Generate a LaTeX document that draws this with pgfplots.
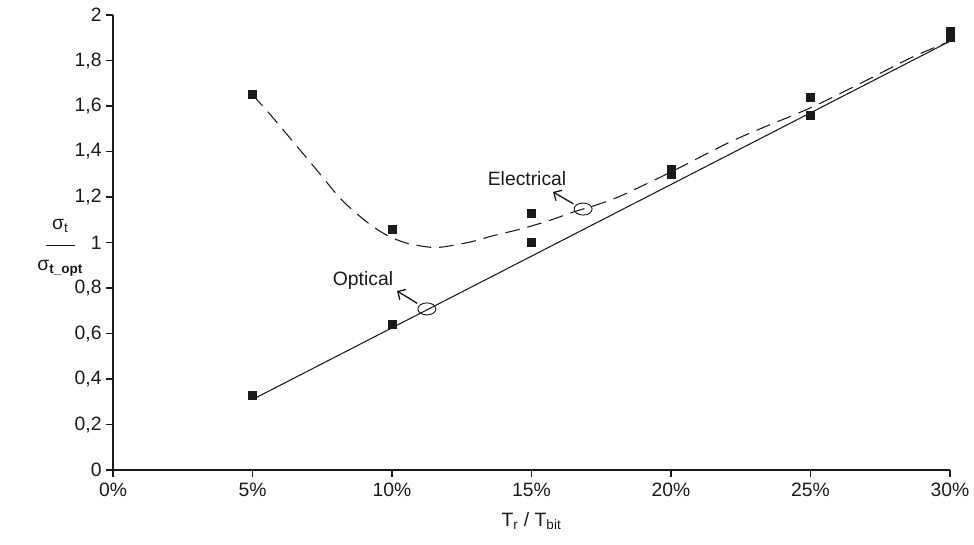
\documentclass[border=0pt]{standalone}
\usepackage{pgfplots}
\pgfplotsset{compat=1.18}
\usetikzlibrary{arrows.meta}
\usepackage{fontspec}
\setmainfont{Liberation Sans}
\definecolor{ink}{HTML}{1A1A1A}
\begin{document}
\begin{tikzpicture}
\begin{axis}[
  scale only axis, width=627.75pt, height=341.25pt,
  xmin=0, xmax=30, ymin=0, ymax=2,
  axis lines=left, axis line style={-, line width=0.8pt, ink},
  xtick={0,5,10,15,20,25,30},
  xticklabels={0\%,5\%,10\%,15\%,20\%,25\%,30\%},
  ytick={0,0.2,0.4,0.6,0.8,1,1.2,1.4,1.6,1.8,2},
  yticklabels={0,{0,2},{0,4},{0,6},{0,8},1,{1,2},{1,4},{1,6},{1,8},2},
  tick align=outside, major tick length=5pt,
  tick style={ink, line width=0.8pt},
  ticklabel style={font=\fontsize{14.5}{16}\selectfont, text=ink},
  xticklabel style={yshift=-1pt},
  xlabel={T\textsubscript{r} / T\textsubscript{bit}},
  xlabel style={font=\fontsize{14.5}{16}\selectfont, text=ink, yshift=-5pt},
  clip=false,
]
% Optical trend line
\addplot[ink, line width=0.8pt] coordinates {(5,0.31) (30,1.885)};
% Electrical trend curve
\addplot[ink, line width=0.8pt, dash pattern=on 11pt off 6pt, smooth, tension=0.5] coordinates {
(5,1.648) (5.5,1.582) (6.4,1.451) (7.3,1.319) (8.2,1.187) (9.1,1.090)
(9.8,1.033) (10.5,0.998) (11.3,0.980) (11.8,0.980) (12.8,1.002) (13.6,1.029)
(14.6,1.059) (15.6,1.095) (16.5,1.134) (17.4,1.168) (18.2,1.205) (20,1.31)
(22,1.435) (23.2,1.50) (25,1.592) (26.8,1.70) (28.6,1.812) (30,1.885)};
% Optical points
\addplot[only marks, mark=square*, mark size=3pt, ink] coordinates {
(5,0.33) (10,0.64) (15,1.00) (20,1.30) (25,1.56) (30,1.90)};
% Electrical points
\addplot[only marks, mark=square*, mark size=3pt, ink] coordinates {
(5,1.65) (10,1.06) (15,1.13) (20,1.32) (25,1.64) (30,1.93)};
% annotations
\draw[ink, line width=0.7pt] (axis cs:16.85,1.147) ellipse [x radius=6.75pt, y radius=4.5pt];
\draw[ink, line width=1pt, -{Straight Barb[length=4.5pt]}] (axis cs:16.5,1.17) -- (axis cs:15.77,1.222);
\node[ink, font=\fontsize{14.5}{16}\selectfont] at (axis cs:14.84,1.279) {Electrical};
\draw[ink, line width=0.7pt] (axis cs:11.25,0.708) ellipse [x radius=6.75pt, y radius=4.5pt];
\draw[ink, line width=1pt, -{Straight Barb[length=4.5pt]}] (axis cs:10.9,0.733) -- (axis cs:10.18,0.787);
\node[ink, font=\fontsize{14.5}{16}\selectfont] at (axis cs:8.96,0.831) {Optical};
% y label as fraction
\node[ink, font=\fontsize{14.5}{16}\selectfont, align=center, inner sep=0pt] at (rel axis cs:-0.063,0.488)
  {σ\textsubscript{t}\\[-4pt]\rule{22pt}{0.7pt}\\[3pt]σ\textsubscript{\textbf{t\_opt}}};
\end{axis}
\pgfresetboundingbox
\useasboundingbox (current axis.south west) ++(-84.75pt,-55.5pt) rectangle ++(730.5pt,408pt);
\end{tikzpicture}
\end{document}
